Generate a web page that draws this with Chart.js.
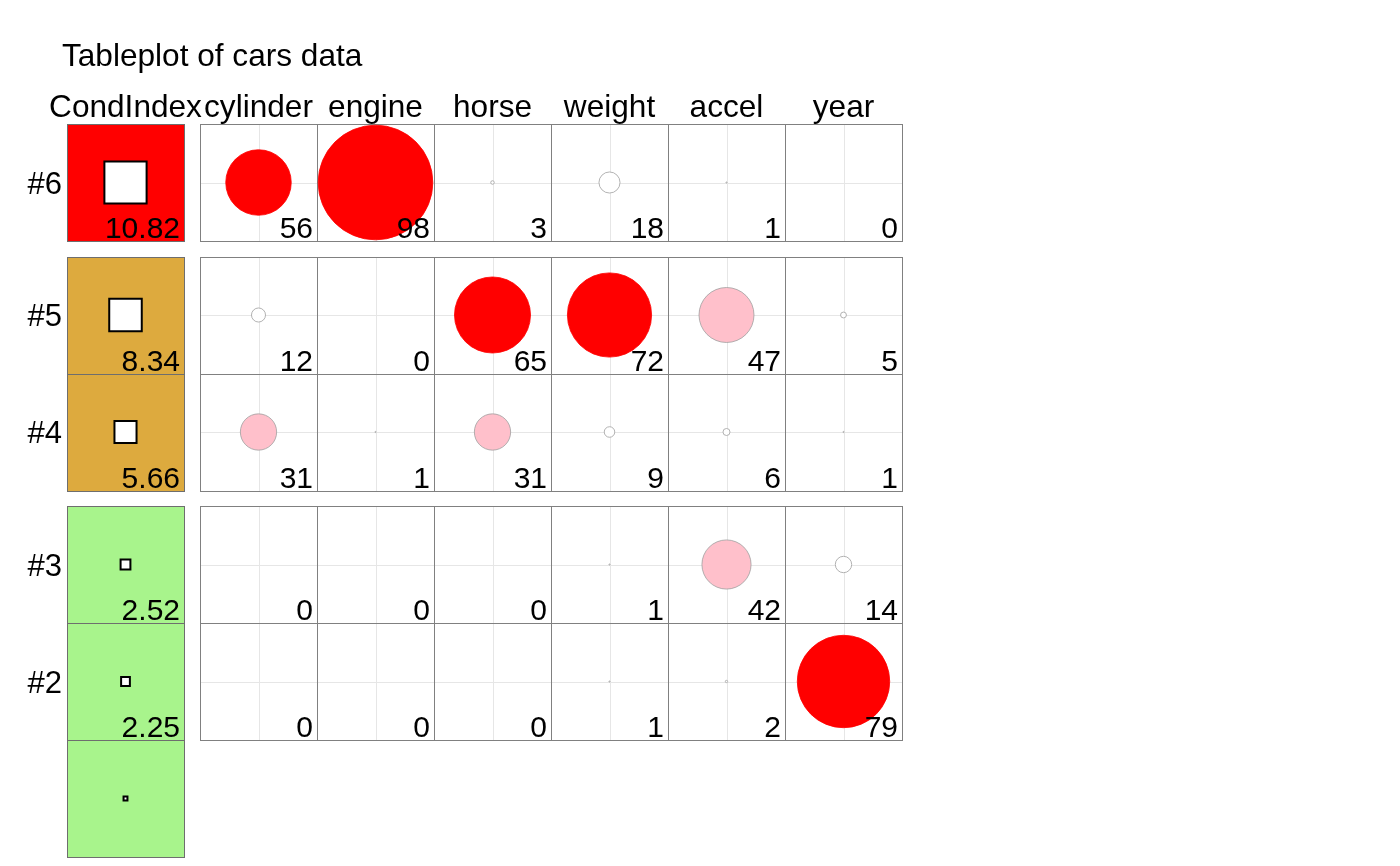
<!DOCTYPE html>
<html><head><meta charset="utf-8">
<script src="https://cdn.jsdelivr.net/npm/chart.js@4"></script>
<style>html,body{margin:0;padding:0;background:#fff}#wrap{width:1400px;height:866px;position:relative}</style>
</head><body><div id="wrap"><canvas id="c"></canvas></div>
<script>
// ---- data ----
const chartTitle = 'Tableplot of cars data';
const condHeader = 'CondIndex';
const variables = ['cylinder', 'engine', 'horse', 'weight', 'accel', 'year'];
const rowLabels = ['#6', '#5', '#4', '#3', '#2', ''];
const condIndex = [10.82, 8.34, 5.66, 2.52, 2.25, 1.00];
const condText = ['10.82', '8.34', '5.66', '2.52', '2.25', ''];
const condLevel = ['high', 'mid', 'mid', 'low', 'low', 'low'];
const propCylinder = [56, 12, 31, 0, 0];
const propEngine   = [98, 0, 1, 0, 0];
const propHorse    = [3, 65, 31, 0, 0];
const propWeight   = [18, 72, 9, 1, 1];
const propAccel    = [1, 47, 6, 42, 2];
const propYear     = [0, 5, 1, 14, 79];
const props = [propCylinder, propEngine, propHorse, propWeight, propAccel, propYear];

// ---- layout / style ----
const GX = 16 / 117, GY = 15.5 / 117;
const levelColor = { high: '#FF0000', mid: '#DDAA3E', low: '#A8F48C' };
const FONT = 'Liberation Sans, Arial, sans-serif';
function rowTop(i) {
  let g = 0;
  for (let k = 1; k <= i; k++) if (condLevel[k] !== condLevel[k - 1]) g++;
  return i + g * GY;
}
function colLeft(j) { return j < 0 ? 0 : 1 + GX + j; }
const nRows = condIndex.length;
const yMax = rowTop(nRows - 1) + 1;
const xMax = colLeft(variables.length - 1) + 1;

function circleColor(v) { return v > 50 ? '#FF0000' : (v >= 20 ? '#FFC0CB' : '#FFFFFF'); }

const circlePts = [];
props.forEach((arr, j) => arr.forEach((v, i) => circlePts.push({ x: colLeft(j) + 0.5, y: rowTop(i) + 0.5, v: v })));
const squarePts = condIndex.map((ci, i) => ({ x: 0.5, y: rowTop(i) + 0.5, ci: ci }));

function cellPx(chart) { const s = chart.scales.x; return s.getPixelForValue(1) - s.getPixelForValue(0); }

const framePlugin = {
  id: 'tableplotFrame',
  beforeDatasetsDraw(chart) {
    const { ctx, scales: { x, y } } = chart;
    const px = (v) => Math.round(x.getPixelForValue(v));
    const py = (v) => Math.round(y.getPixelForValue(v));
    ctx.save();
    ctx.lineWidth = 1;
    for (let i = 0; i < nRows; i++) {
      const t = py(rowTop(i)), b = py(rowTop(i) + 1);
      const l = px(0), r = px(1);
      ctx.fillStyle = levelColor[condLevel[i]];
      ctx.fillRect(l, t, r - l, b - t);
      ctx.strokeStyle = '#6e6e6e';
      ctx.strokeRect(l + 0.5, t + 0.5, r - l, b - t);
      if (i < props[0].length) {
        for (let j = 0; j < variables.length; j++) {
          const cl = px(colLeft(j)), cr = px(colLeft(j) + 1);
          const cx = px(colLeft(j) + 0.5), cy = py(rowTop(i) + 0.5);
          ctx.fillStyle = '#FFFFFF';
          ctx.fillRect(cl, t, cr - cl, b - t);
          ctx.strokeStyle = '#E6E6E6';
          ctx.beginPath();
          ctx.moveTo(cl, cy + 0.5); ctx.lineTo(cr, cy + 0.5);
          ctx.moveTo(cx + 0.5, t); ctx.lineTo(cx + 0.5, b);
          ctx.stroke();
          ctx.strokeStyle = '#808080';
          ctx.strokeRect(cl + 0.5, t + 0.5, cr - cl, b - t);
        }
      }
    }
    ctx.restore();
  },
  afterDatasetsDraw(chart) {
    const { ctx, scales: { x, y } } = chart;
    ctx.save();
    ctx.fillStyle = '#000000';
    ctx.font = '31.6px ' + FONT;
    ctx.textBaseline = 'alphabetic';
    ctx.textAlign = 'left';
    ctx.fillText(chartTitle, 62, 66);
    // column headers
    ctx.textAlign = 'center';
    const hy = y.getPixelForValue(0) - 7;
    ctx.fillText(condHeader, x.getPixelForValue(0.5), hy);
    variables.forEach((v, j) => ctx.fillText(v, x.getPixelForValue(colLeft(j) + 0.5), hy));
    // row labels
    ctx.textAlign = 'right';
    ctx.font = '31px ' + FONT;
    rowLabels.forEach((lab, i) => {
      if (lab) ctx.fillText(lab, x.getPixelForValue(0) - 5, y.getPixelForValue(rowTop(i) + 0.5) + 11);
    });
    // numbers
    ctx.font = '30px ' + FONT;
    for (let i = 0; i < nRows; i++) {
      const by = y.getPixelForValue(rowTop(i) + 1) - 3;
      if (condText[i]) ctx.fillText(condText[i], x.getPixelForValue(1) - 4, by);
      if (i < props[0].length) {
        props.forEach((arr, j) => ctx.fillText(String(arr[i]), x.getPixelForValue(colLeft(j) + 1) - 4, by));
      }
    }
    ctx.restore();
  }
};

new Chart(document.getElementById('c'), {
  type: 'scatter',
  data: {
    datasets: [
      {
        label: 'variance proportions',
        data: circlePts,
        clip: false,
        pointStyle: 'circle',
        pointRadius: (c) => c.raw ? c.raw.v / 100 * cellPx(c.chart) / 2 : 0,
        pointBackgroundColor: (c) => c.raw ? circleColor(c.raw.v) : '#fff',
        pointBorderColor: (c) => c.raw && c.raw.v > 50 ? 'rgba(255,0,0,1)' : '#A0A0A0',
        pointBorderWidth: 0.8
      },
      {
        label: 'condition index',
        data: squarePts,
        clip: false,
        pointStyle: 'rect',
        pointRadius: (c) => c.raw ? (c.raw.ci / 30) * cellPx(c.chart) / Math.SQRT2 : 0,
        pointBackgroundColor: '#FFFFFF',
        pointBorderColor: '#000000',
        pointBorderWidth: 2
      }
    ]
  },
  options: {
    responsive: true,
    maintainAspectRatio: false,
    animation: false,
    events: [],
    layout: { padding: { left: 67, right: 498, top: 124, bottom: 9 } },
    scales: {
      x: { type: 'linear', display: false, min: 0, max: xMax },
      y: { type: 'linear', display: false, min: 0, max: yMax, reverse: true }
    },
    plugins: { legend: { display: false }, tooltip: { enabled: false }, title: { display: false } }
  },
  plugins: [framePlugin]
});
</script>
</body></html>
